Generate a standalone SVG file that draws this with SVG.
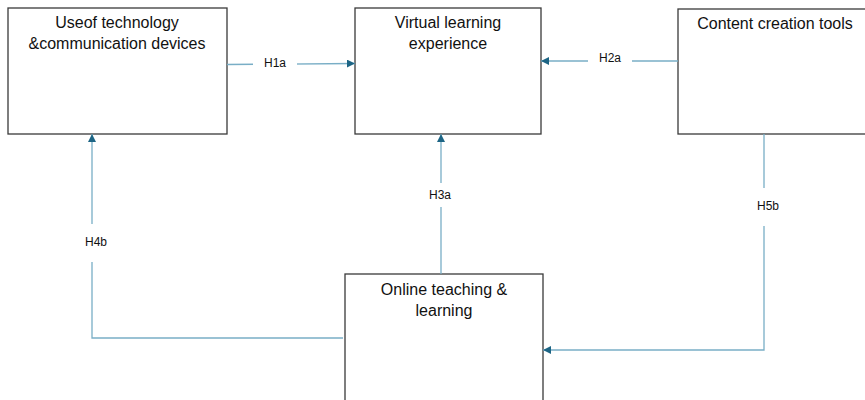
<svg xmlns="http://www.w3.org/2000/svg" width="865" height="400" viewBox="0 0 865 400">
<defs>
<style>
.box{fill:#fff;stroke:#3a3a3a;stroke-width:1.3}
.t{font-family:"Liberation Sans",Arial,sans-serif;font-size:16px;fill:#111;text-anchor:middle}
.c{fill:none;stroke:#79aec6;stroke-width:1.3}
.lbl{font-family:"Liberation Sans",Arial,sans-serif;font-size:12px;fill:#111;text-anchor:middle}
.bg{fill:#fff}
</style>
<marker id="ah" viewBox="0 0 10 10" refX="10" refY="5" markerWidth="8" markerHeight="8" markerUnits="userSpaceOnUse" orient="auto">
<path d="M0,0 L10,5 L0,10 z" fill="#1d6585"/>
</marker>
</defs>
<rect width="865" height="400" fill="#fff"/>
<g id="n1">
<rect class="box" x="8" y="8" width="219" height="126"/>
<text class="t" x="117" y="28">Useof technology</text>
<text class="t" x="117" y="49">&amp;communication devices</text>
</g>
<g id="n2">
<rect class="box" x="355" y="8" width="186" height="126"/>
<text class="t" x="448" y="28">Virtual learning</text>
<text class="t" x="448" y="49">experience</text>
</g>
<g id="n3">
<rect class="box" x="678" y="9" width="200" height="125"/>
<text class="t" x="775" y="29">Content creation tools</text>
</g>
<g id="n4">
<rect class="box" x="345" y="274" width="198" height="140"/>
<text class="t" x="444" y="295">Online teaching &amp;</text>
<text class="t" x="444" y="316">learning</text>
</g>
<g id="connectors">
<path class="c" d="M227,64.5 L355,63.5" marker-end="url(#ah)"/>
<rect class="bg" x="253" y="56" width="44" height="16"/>
<text class="lbl" x="275" y="67">H1a</text>
<path class="c" d="M678,61 L541,61" marker-end="url(#ah)"/>
<rect class="bg" x="588" y="52" width="44" height="16"/>
<text class="lbl" x="610" y="62">H2a</text>
<path class="c" d="M441,274 L441,134" marker-end="url(#ah)"/>
<rect class="bg" x="420" y="183" width="44" height="24"/>
<text class="lbl" x="440" y="199">H3a</text>
<path class="c" d="M343,338 L92,338 L92,134" marker-end="url(#ah)"/>
<rect class="bg" x="74" y="224" width="44" height="38"/>
<text class="lbl" x="96" y="246">H4b</text>
<path class="c" d="M764,134 L764,350 L543,350" marker-end="url(#ah)"/>
<rect class="bg" x="746" y="188" width="44" height="38"/>
<text class="lbl" x="768" y="210">H5b</text>
</g>
</svg>
